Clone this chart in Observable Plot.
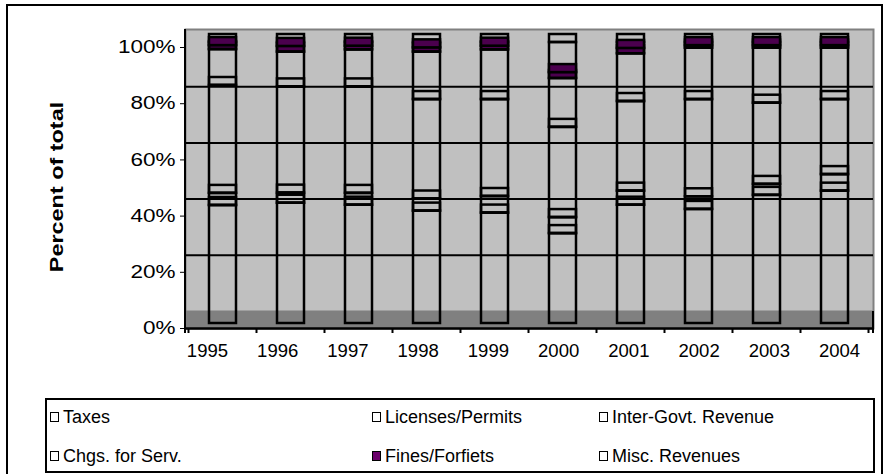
<!DOCTYPE html>
<html>
<head>
<meta charset="utf-8">
<script src="https://cdn.jsdelivr.net/npm/d3@7"></script>
<script src="https://cdn.jsdelivr.net/npm/@observablehq/plot@0.6"></script>
<style>
  html, body { margin: 0; padding: 0; background: #fff; }
  #wrap { position: relative; width: 888px; height: 474px; overflow: hidden; font-family: "Liberation Sans", Arial, sans-serif; }
  #frame { position: absolute; left: 6px; top: 4px; width: 877px; height: 520px; border: 2px solid #000; box-sizing: border-box; }
  #chart { position: absolute; left: 0; top: 0; }
  #xlabels { position: absolute; left: 0; top: 336px; }
  #ylabel { position: absolute; left: 57px; top: 187px; transform: translate(-50%, -50%) rotate(-90deg) scaleX(1.3); font-weight: bold; font-size: 18px; white-space: nowrap; }
  #legend { position: absolute; left: 45px; top: 398px; width: 830px; height: 75px; border: 2px solid #000; box-sizing: border-box; background: #fff; }
  .item { position: absolute; font-size: 18px; line-height: 20px; white-space: nowrap; }
  .sw { display: inline-block; width: 7px; height: 8px; border: 1.5px solid #000; background: #fff; margin-right: 4px; vertical-align: 1px; }
</style>
</head>
<body>
<div id="wrap">
  <div id="frame"></div>
  <div id="chart"></div>
  <div id="xlabels"></div>
  <div id="ylabel">Percent of total</div>
  <div id="legend"></div>
</div>
<script>
// ---- data (percent of total revenue) ----
const years = ["1995", "1996", "1997", "1998", "1999", "2000", "2001", "2002", "2003", "2004"];
const seriesNames = ["Taxes", "Licenses/Permits", "Inter-Govt. Revenue", "Chgs. for Serv.", "Fines/Forfiets", "Misc. Revenues"];
const taxes     = [42.0, 42.8, 42.1, 40.0, 39.3, 32.0, 42.1, 40.6, 45.6, 47.1];
const licenses  = [4.3, 3.6, 4.2, 4.3, 5.9, 5.7, 5.0, 4.5, 3.9, 5.9];
const interGovt = [38.4, 37.8, 37.9, 35.4, 34.5, 32.1, 31.9, 34.6, 28.9, 26.7];
const chgsServ  = [12.8, 12.4, 13.2, 16.9, 17.7, 17.4, 17.0, 18.3, 19.6, 18.3];
const fines     = [1.4, 2.0, 1.3, 1.5, 1.3, 2.1, 1.9, 0.9, 0.9, 0.9];
const misc      = [1.1, 1.4, 1.3, 1.9, 1.3, 10.7, 2.1, 1.1, 1.1, 1.1];
const yTicks    = [0, 0.2, 0.4, 0.6, 0.8, 1.0];

const seriesValues = [taxes, licenses, interGovt, chgsServ, fines, misc];
const PURPLE = "#4b004e";

// stacked table built from the arrays
const rows = [];
years.forEach((yr, i) => {
  const total = d3.sum(seriesValues, s => s[i]);
  let c = 0;
  seriesNames.forEach((name, k) => {
    const lo = c / total;
    c += seriesValues[k][i];
    rows.push({year: yr, series: name, lo, hi: c / total});
  });
});
const isFines = d => d.series === "Fines/Forfiets";

const barStyle = {x: "year", stroke: "black", strokeWidth: 2.5, dy: -5};

const chart = Plot.plot({
  width: 888,
  height: 372,
  marginLeft: 185,
  marginRight: 15,
  marginTop: 29,
  marginBottom: 44,
  style: {fontFamily: "'Liberation Sans', Arial, sans-serif", fontSize: "18px", background: "transparent", overflow: "visible"},
  x: {domain: years, paddingInner: 0.6, paddingOuter: 0.3, axis: null},
  y: {domain: [0, 1.0641], ticks: 5, tickFormat: d3.format(".0%"), tickSize: 5, tickPadding: 5, label: null},
  marks: [
    Plot.frame({fill: "#C0C0C0", stroke: "#808080", strokeWidth: 2}),
    // floor
    Plot.ruleY([0], {stroke: "#808080", strokeWidth: 18, dy: -9}),
    // back-wall gridlines
    Plot.ruleY(yTicks.filter(t => t > 0 && t < 1), {stroke: "black", strokeWidth: 2, dy: -17}),
    // front faces
    Plot.barY(rows, {...barStyle, filter: d => !isFines(d), y1: "lo", y2: "hi", fill: "none"}),
    Plot.barY(rows, {...barStyle, filter: isFines, y1: "lo", y2: "hi", fill: PURPLE}),
    // top faces (3-D depth)
    Plot.barY(rows, {...barStyle, filter: d => !isFines(d), y1: "hi", y2: "hi", insetTop: -8, fill: "none"}),
    Plot.barY(rows, {...barStyle, filter: isFines, y1: "hi", y2: "hi", insetTop: -8, fill: PURPLE}),
    // x axis line
    Plot.ruleY([0], {stroke: "black", strokeWidth: 2.5}),
    // left axis line, category boundary ticks, floor edge
    (index, scales, values, dims) => {
      const {x, y} = scales;
      const g = d3.create("svg:g").attr("stroke", "black").attr("stroke-width", 2);
      const left = dims.marginLeft, right = dims.width - dims.marginRight;
      const y0 = y(0);
      g.append("line").attr("x1", left).attr("x2", left).attr("y1", dims.marginTop).attr("y2", y0 + 5);
      const gap = (x.step() - x.bandwidth()) / 2;
      const edges = x.domain().map(d => x(d) - gap);
      edges.push(x(x.domain()[x.domain().length - 1]) + x.bandwidth() + gap);
      for (const e of edges) g.append("line").attr("x1", e).attr("x2", e).attr("y1", y0).attr("y2", y0 + 5);
      g.append("line").attr("x1", right).attr("x2", right).attr("y1", y0 - 17).attr("y2", y0 + 5);
      return g.node();
    }
  ]
});
// widen the y tick labels like the original rendering
chart.querySelectorAll('[aria-label="y-axis tick label"] text, [aria-label="y-axis"] text').forEach(t => {
  const tr = t.getAttribute("transform") || "";
  t.setAttribute("transform", tr + " scale(1.25,1)");
});
document.getElementById("chart").appendChild(chart);

// category labels along the (3-D) front edge of the floor
const xLabels = Plot.plot({
  width: 910,
  height: 30,
  marginLeft: 175.5,
  marginRight: 14.5,
  marginTop: 0,
  marginBottom: 0,
  style: {fontFamily: "'Liberation Sans', Arial, sans-serif", background: "transparent", overflow: "visible"},
  x: {type: "point", domain: years, padding: 0.5, axis: null},
  marks: [Plot.text(years, {x: d => d, text: d => d, fontSize: 19, fill: "black"})]
});
document.getElementById("xlabels").appendChild(xLabels);

// legend
const legend = document.getElementById("legend");
const colX = [3, 325, 552];
const rowY = [7, 46];
seriesNames.forEach((name, k) => {
  const it = document.createElement("div");
  it.className = "item";
  it.style.left = colX[k % 3] + "px";
  it.style.top = rowY[Math.floor(k / 3)] + "px";
  const sw = document.createElement("span");
  sw.className = "sw";
  if (name === "Fines/Forfiets") sw.style.background = "#6b006b";
  it.appendChild(sw);
  it.appendChild(document.createTextNode(name));
  legend.appendChild(it);
});
</script>
</body>
</html>
